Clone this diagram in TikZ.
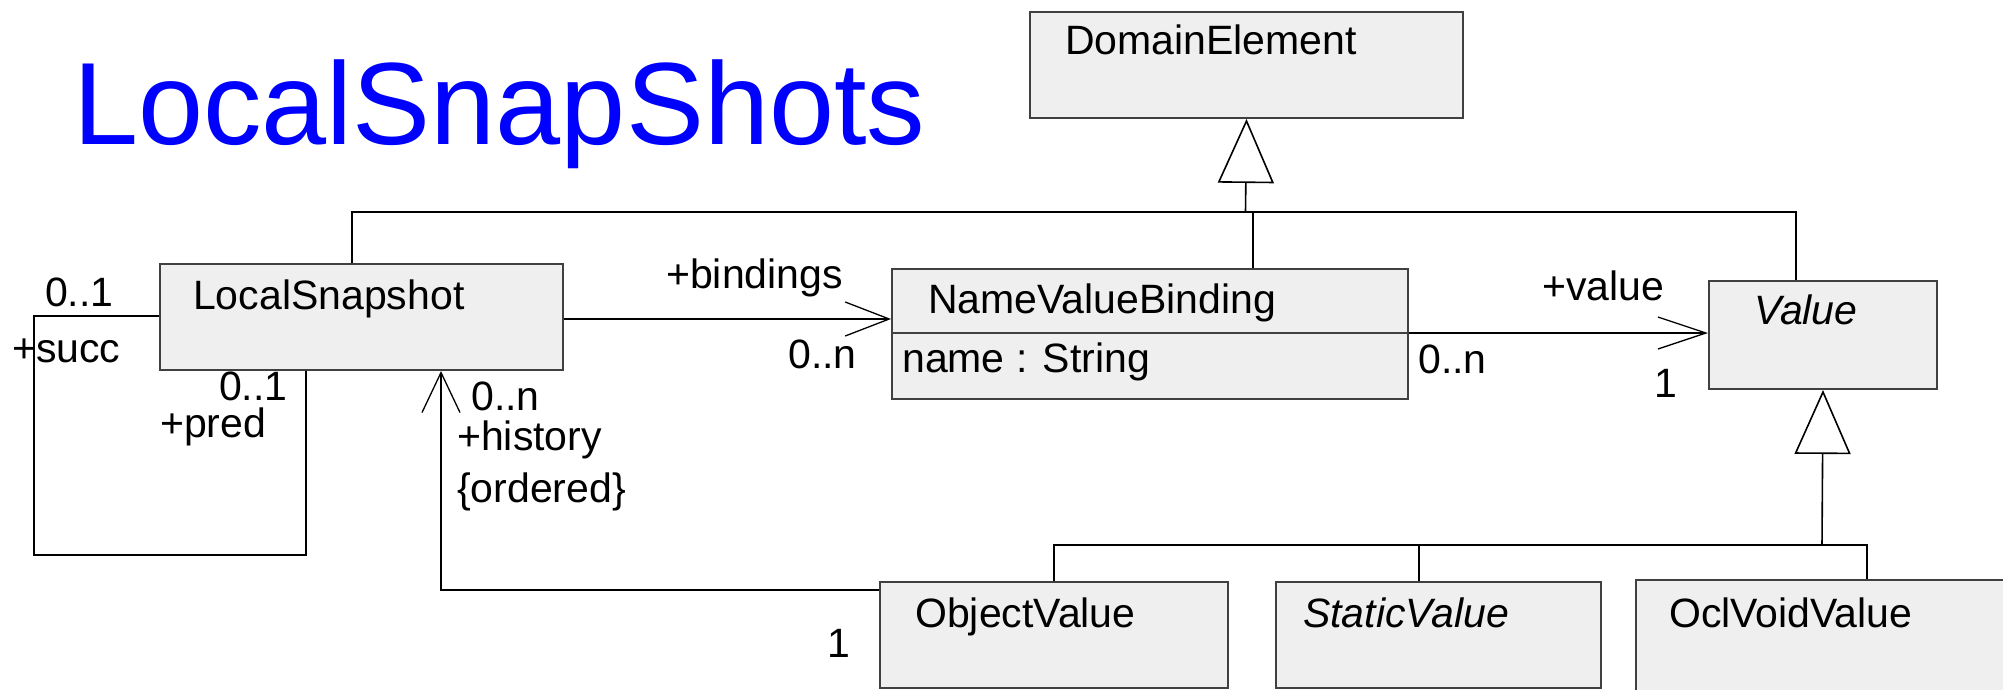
\documentclass[tikz,border=0pt]{standalone}
\usepackage{fontspec}
\setmainfont{Liberation Sans}
\usetikzlibrary{arrows.meta,calc}
\definecolor{boxfill}{HTML}{EFEFEF}
\definecolor{boxline}{HTML}{404040}
\definecolor{titleblue}{RGB}{0,0,255}
\begin{document}
\begin{tikzpicture}[x=1pt,y=-1pt,
  box/.style={draw=boxline, fill=boxfill, line width=2pt, rectangle, inner sep=0pt, anchor=north west},
  txt/.style={inner sep=0pt, anchor=base west, font=\fontsize{41}{41}\selectfont},
  conn/.style={draw=black, line width=1.6pt},
  gen/.style={conn, -{Triangle[length=64pt, width=56pt, fill=white]}},
  navb/.style={conn, -{Straight Barb[length=44pt, width=34pt, line width=1.3pt]}},
  navv/.style={conn, -{Straight Barb[length=48pt, width=32pt, line width=1.3pt]}},
  navh/.style={conn, -{Straight Barb[length=40pt, width=38pt, line width=1.3pt]}}]
\useasboundingbox (0,0) rectangle (2003,689);
\clip (0,0) rectangle (2003,689);

% title
\node[inner sep=0pt, anchor=base west, text=titleblue, font=\fontsize{117}{117}\selectfont] (title) at (73,144) {LocalSnapShots};

% boxes
\node[box, minimum width=433pt, minimum height=106pt] (de) at (1029,11) {};
\node[box, minimum width=403pt, minimum height=106pt] (ls) at (159,263) {};
\node[box, minimum width=516pt, minimum height=130pt] (nvb) at (891,268) {};
\draw[boxline, line width=2pt] ($(nvb.north west)+(0,65)$) -- ($(nvb.north east)+(0,65)$);
\node[box, minimum width=228pt, minimum height=108pt] (val) at (1708,280) {};
\node[box, minimum width=348pt, minimum height=106pt] (ov) at (879,581) {};
\node[box, minimum width=325pt, minimum height=106pt] (sv) at (1275,581) {};
\node[box, minimum width=420pt, minimum height=140pt] (ovv) at (1635,579) {};

% box texts
\node[txt] (deT) at (1065,54) {DomainElement};
\node[txt] (lsT) at (193,309) {LocalSnapshot};
\node[txt] (nvbT) at (928,313) {NameValueBinding};
\node[txt] (nvbA) at (902,372) {name : String};
\node[txt, font=\fontsize{41}{41}\selectfont\itshape] (valT) at (1754,324) {Value};
\node[txt] (ovT) at (915,627) {ObjectValue};
\node[txt, font=\fontsize{41}{41}\selectfont\itshape] (svT) at (1303,627) {StaticValue};
\node[txt] (ovvT) at (1669,627) {OclVoidValue};

% generalization: DomainElement
\coordinate (g1) at (1245.5,212);
\coordinate (t1L) at (352,212);
\coordinate (t1M) at (1253,212);
\coordinate (t1R) at (1796,212);
\draw[conn] (t1L |- ls.north) -- (t1L) -- (t1R) -- (t1R |- val.north);
\draw[conn] (t1M) -- (t1M |- nvb.north);
\draw[gen] (g1) -- (de.south);

% generalization: Value
\coordinate (g2) at (1822,545);
\coordinate (b1L) at (1054,545);
\coordinate (b1M) at (1419,545);
\coordinate (b1R) at (1867,545);
\draw[conn] (b1L |- ov.north) -- (b1L) -- (b1R) -- (b1R |- ovv.north);
\draw[conn] (b1M) -- (b1M |- sv.north);
\draw[gen] (g2) -- (val.south);

% bindings association
\coordinate (bA) at (562,319);
\draw[navb] (ls.east |- bA) -- (nvb.west |- bA);
\node[txt] (lb1) at (666,288) {+bindings};
\node[txt] (lb2) at (788,368) {0..n};

% value association
\coordinate (vA) at (1407,333);
\draw[navv] (nvb.east |- vA) -- (val.west |- vA);
\node[txt] (lv1) at (1542,300) {+value};
\node[txt] (lv2) at (1418,373) {0..n};
\node[txt] (lv3) at (1654,397) {1};

% history association
\coordinate (hC) at (441,590);
\draw[navh] (ov.west |- hC) -- (hC) -- (hC |- ls.south);
\node[txt] (lh1) at (471,410) {0..n};
\node[txt] (lh2) at (457,450) {+history};
\node[txt] (lh3) at (457,502) {\{ordered\}};
\node[txt] (lh4) at (827,657) {1};

% self association succ/pred
\coordinate (s1) at (34,316);
\coordinate (s2) at (306,555);
\draw[conn] (ls.west |- s1) -- (s1) -- (s1 |- s2) -- (s2) -- (s2 |- ls.south);
\node[txt] (ls1) at (45,306) {0..1};
\node[txt] (ls2) at (12,362) {+succ};
\node[txt] (ls3) at (219,400) {0..1};
\node[txt] (ls4) at (160,437) {+pred};
\end{tikzpicture}
\end{document}
